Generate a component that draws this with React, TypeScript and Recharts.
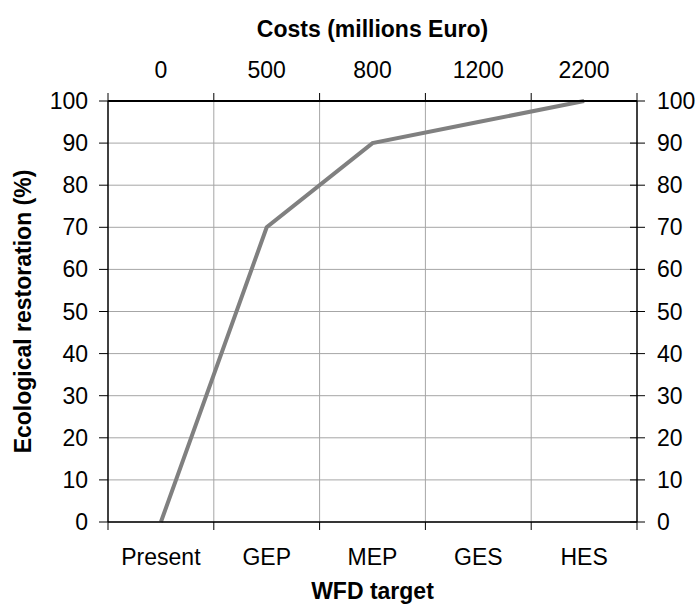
import React from 'react';
import { LineChart, Line, XAxis, YAxis, CartesianGrid } from 'recharts';

// WFD targets, their associated costs and the degree of ecological restoration
const targets = ['Present', 'GEP', 'MEP', 'GES', 'HES'];
const costs = ['0', '500', '800', '1200', '2200'];
const restoration = [0, 70, 90, 95, 100];
const yTicks = [0, 10, 20, 30, 40, 50, 60, 70, 80, 90, 100];

const data = targets.map((t, i) => ({ target: t, cost: costs[i], value: restoration[i] }));

const W = 698;
const H = 610;
const LEFT_W = 108;
const RIGHT_W = 61;
const TOP_H = 101;
const BOTTOM_H = 88;
const PLOT_W = W - LEFT_W - RIGHT_W;
const BAND = PLOT_W / targets.length;

const FONT = '"Liberation Sans", Arial, Helvetica, sans-serif';
const FS = 23;
const GRID = '#a6a6a6';
const AXIS = '#000';

const BottomTick = (props: any) => {
  const { x, y, payload, index } = props;
  const last = index === targets.length - 1;
  return (
    <g>
      <line x1={x - BAND / 2} y1={y} x2={x - BAND / 2} y2={y + 8} stroke={AXIS} strokeWidth={1} />
      {last && <line x1={x + BAND / 2} y1={y} x2={x + BAND / 2} y2={y + 8} stroke={AXIS} strokeWidth={1} />}
      <text x={x} y={y + 43} textAnchor="middle" fontFamily={FONT} fontSize={FS} fill="#000">
        {payload.value}
      </text>
    </g>
  );
};

const TopTick = (props: any) => {
  const { x, y, payload, index } = props;
  const last = index === costs.length - 1;
  return (
    <g>
      <line x1={x - BAND / 2} y1={y} x2={x - BAND / 2} y2={y - 8} stroke={AXIS} strokeWidth={1} />
      {last && <line x1={x + BAND / 2} y1={y} x2={x + BAND / 2} y2={y - 8} stroke={AXIS} strokeWidth={1} />}
      <text x={x} y={y - 23} textAnchor="middle" fontFamily={FONT} fontSize={FS} fill="#000">
        {payload.value}
      </text>
    </g>
  );
};

const LeftTick = (props: any) => {
  const { x, y, payload } = props;
  return (
    <g>
      <line x1={x - 9} y1={y} x2={x} y2={y} stroke={AXIS} strokeWidth={1} />
      <text x={x - 20} y={y + 8} textAnchor="end" fontFamily={FONT} fontSize={FS} fill="#000">
        {payload.value}
      </text>
    </g>
  );
};

const RightTick = (props: any) => {
  const { x, y, payload } = props;
  return (
    <g>
      <line x1={x - 7} y1={y} x2={x + 8} y2={y} stroke={AXIS} strokeWidth={1} />
      <text x={x + 20} y={y + 8} textAnchor="start" fontFamily={FONT} fontSize={FS} fill="#000">
        {payload.value}
      </text>
    </g>
  );
};

const verticalLines = ({ offset }: any) => {
  const out: number[] = [];
  for (let i = 1; i < targets.length; i++) out.push(offset.left + (offset.width * i) / targets.length);
  return out;
};

export default function App() {
  return (
    <div style={{ position: 'absolute', left: 0, top: 0, width: W, height: H, background: '#fff' }}>
      <LineChart width={W} height={H} data={data} margin={{ top: 0, right: 0, bottom: 0, left: 0 }}>
        <CartesianGrid
          xAxisId="bottom"
          yAxisId="left"
          stroke={GRID}
          strokeWidth={1}
          verticalCoordinatesGenerator={verticalLines}
        />
        <XAxis
          xAxisId="bottom"
          dataKey="target"
          type="category"
          scale="band"
          orientation="bottom"
          height={BOTTOM_H}
          interval={0}
          tickSize={0}
          tickMargin={0}
          tickLine={false}
          axisLine={{ stroke: AXIS, strokeWidth: 1.5 }}
          tick={BottomTick}
          label={{
            content: (p: any) => {
              const vb = p.viewBox;
              return (
                <text x={vb.x + vb.width / 2} y={H - 11} textAnchor="middle" fontFamily={FONT} fontSize={FS} fontWeight="bold" fill="#000">
                  WFD target
                </text>
              );
            },
          }}
        />
        <XAxis
          xAxisId="top"
          dataKey="cost"
          type="category"
          scale="band"
          orientation="top"
          height={TOP_H}
          interval={0}
          tickSize={0}
          tickMargin={0}
          tickLine={false}
          axisLine={{ stroke: AXIS, strokeWidth: 2 }}
          tick={TopTick}
          label={{
            content: (p: any) => {
              const vb = p.viewBox;
              return (
                <text x={vb.x + vb.width / 2} y={37} textAnchor="middle" fontFamily={FONT} fontSize={FS} fontWeight="bold" fill="#000">
                  Costs (millions Euro)
                </text>
              );
            },
          }}
        />
        <YAxis
          yAxisId="left"
          orientation="left"
          width={LEFT_W}
          domain={[0, 100]}
          ticks={yTicks}
          interval={0}
          tickSize={0}
          tickMargin={0}
          tickLine={false}
          axisLine={{ stroke: AXIS, strokeWidth: 1.5 }}
          tick={LeftTick}
          label={{
            content: (p: any) => {
              const vb = p.viewBox;
              const cy = vb.y + vb.height / 2;
              return (
                <text
                  x={31}
                  y={cy}
                  transform={`rotate(-90 31 ${cy})`}
                  textAnchor="middle"
                  fontFamily={FONT}
                  fontSize={FS}
                  fontWeight="bold"
                  fill="#000"
                >
                  Ecological restoration (%)
                </text>
              );
            },
          }}
        />
        <YAxis
          yAxisId="right"
          orientation="right"
          width={RIGHT_W}
          type="number"
          domain={[0, 100]}
          allowDataOverflow
          ticks={yTicks}
          interval={0}
          tickSize={0}
          tickMargin={0}
          tickLine={false}
          axisLine={{ stroke: AXIS, strokeWidth: 1.5 }}
          tick={RightTick}
        />
        <Line
          xAxisId="bottom"
          yAxisId="left"
          type="linear"
          dataKey="value"
          stroke="#808080"
          strokeWidth={4}
          dot={false}
          isAnimationActive={false}
        />
      </LineChart>
    </div>
  );
}
